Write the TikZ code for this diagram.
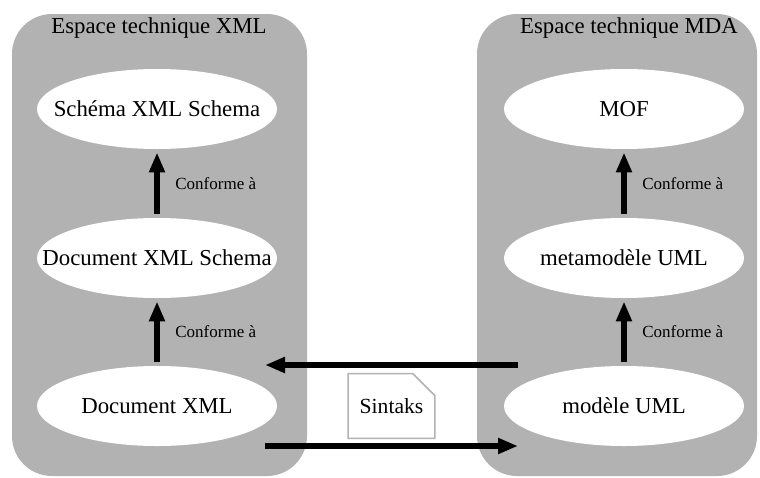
\documentclass[tikz,border=0pt]{standalone}
\usepackage{fontspec}
\setmainfont{Liberation Serif}
\usetikzlibrary{shapes.geometric,arrows.meta}

\begin{document}
\begin{tikzpicture}[x=0.5pt, y=-0.5pt,
    espace/.style={fill=black!30, rounded corners=20pt},
    titre/.style={anchor=base, font=\fontsize{11.4}{13}\selectfont},
    modele/.style={ellipse, fill=white, inner xsep=-18pt, inner ysep=0pt,
      minimum width=120pt, minimum height=40pt, font=\fontsize{11.4}{13}\selectfont},
    conforme/.style={-{Triangle[length=10pt,width=7.5pt]}, line width=3.4pt,
      shorten <=2pt, shorten >=1.5pt},
    transfo/.style={-{Triangle[length=10pt,width=7.5pt]}, line width=3pt},
    etiq/.style={right, inner sep=0pt, xshift=7.5pt, font=\fontsize{8.5}{10}\selectfont}]
  \useasboundingbox (0,0) rectangle (760,477);

  \fill[espace] (12,14) rectangle (307,476);
  \fill[espace] (477,14) rectangle (757,476);
  \node[titre] (txml) at (159,33) {Espace technique XML};
  \node[titre] (tmda) at (629,33) {Espace technique MDA};

  \node[modele] (schema) at (157,109) {Schéma XML Schema};
  \node[modele] (docschema) at (157,258) {Document XML Schema};
  \node[modele] (docxml) at (157,406) {Document XML};

  \node[modele] (mof) at (624,109) {MOF};
  \node[modele] (meta) at (624,258) {metamodèle UML};
  \node[modele] (uml) at (624,406) {modèle UML};

  \draw[conforme] (docschema.north) -- (schema.south) node[etiq, midway] {Conforme à};
  \draw[conforme] (docxml.north) -- (docschema.south) node[etiq, midway] {Conforme à};
  \draw[conforme] (meta.north) -- (mof.south) node[etiq, midway] {Conforme à};
  \draw[conforme] (uml.north) -- (meta.south) node[etiq, midway] {Conforme à};

  \coordinate (umlhaut) at (518,365);
  \coordinate (xmlhaut) at (265,365);
  \coordinate (xmlbas) at (265,446);
  \coordinate (umlbas) at (518,446);
  \draw[transfo] (umlhaut) -- (xmlhaut);
  \draw[transfo] (xmlbas) -- (umlbas);

  \node[minimum width=43pt, minimum height=32pt, inner sep=0pt,
    font=\fontsize{10.8}{12}\selectfont] (sintaks) at (391.5,406) {Sintaks};
  \draw[black!30, line width=0.8pt, fill=white]
    (sintaks.south west) -- (sintaks.north west) -- ([xshift=-11pt]sintaks.north east)
    -- ([yshift=-11pt]sintaks.north east) -- (sintaks.south east) -- cycle;
  \node[font=\fontsize{10.8}{12}\selectfont] at (sintaks) {Sintaks};
\end{tikzpicture}
\end{document}
